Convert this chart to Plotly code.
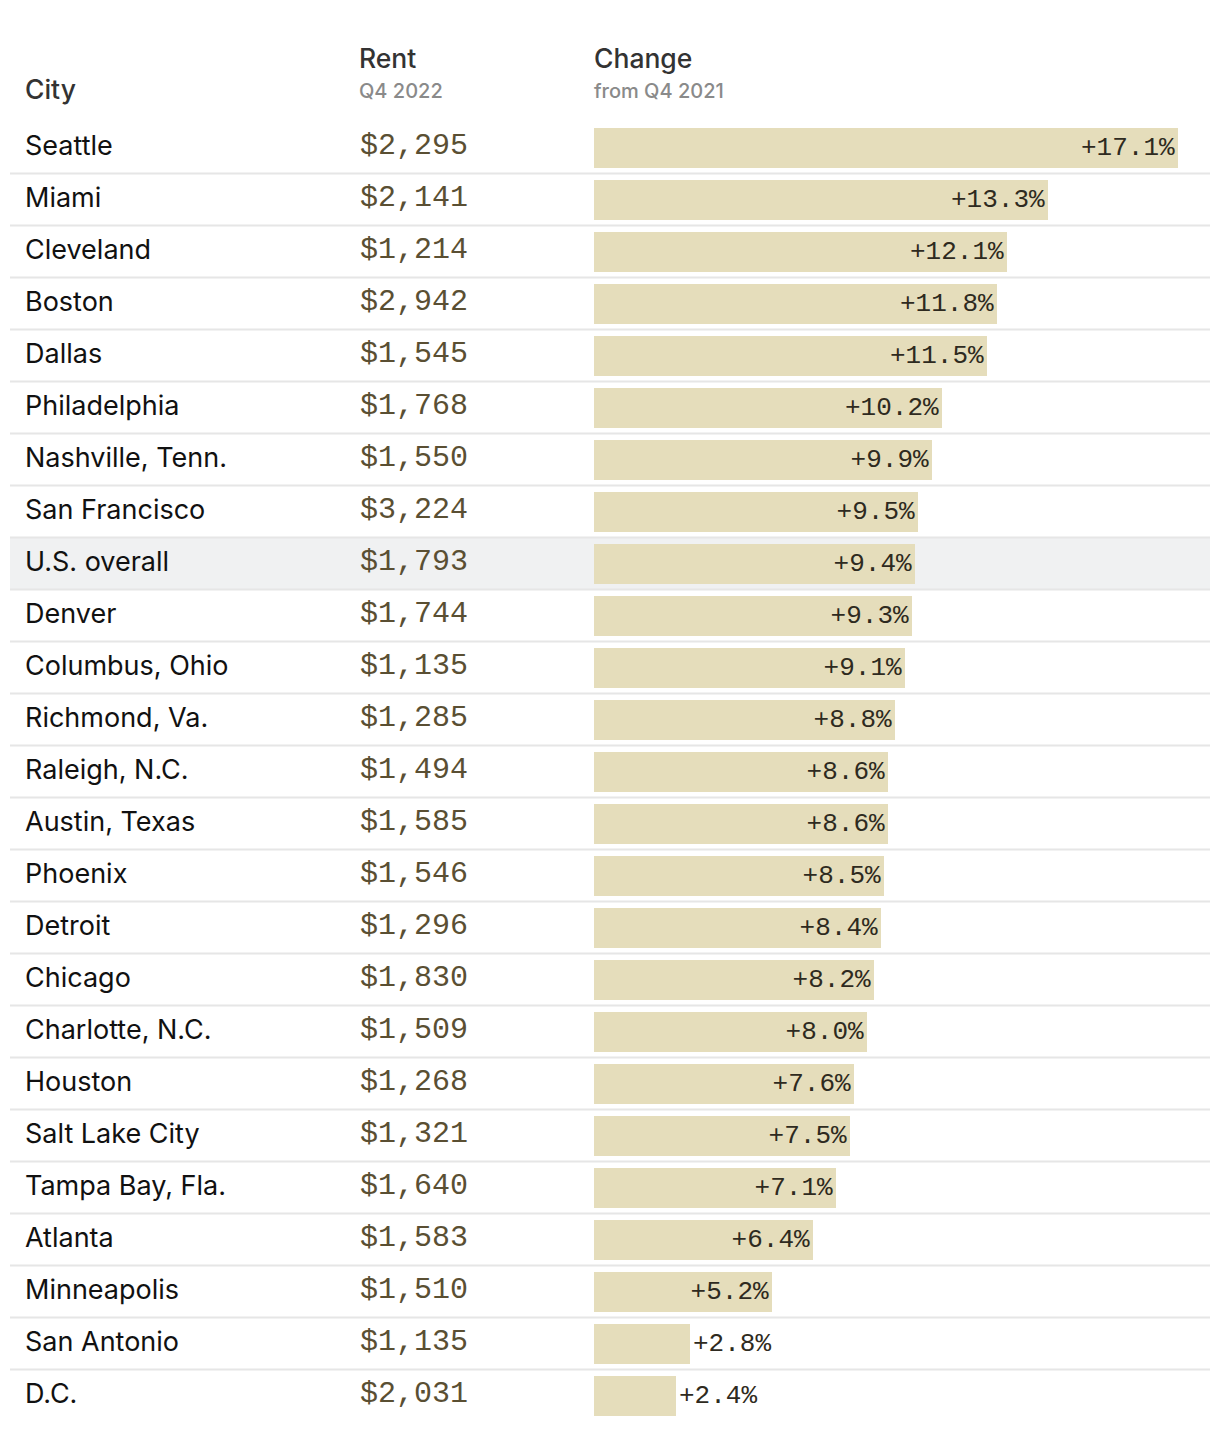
import plotly.graph_objects as go

cities = ["Seattle", "Miami", "Cleveland", "Boston", "Dallas", "Philadelphia",
          "Nashville, Tenn.", "San Francisco", "U.S. overall", "Denver",
          "Columbus, Ohio", "Richmond, Va.", "Raleigh, N.C.", "Austin, Texas",
          "Phoenix", "Detroit", "Chicago", "Charlotte, N.C.", "Houston",
          "Salt Lake City", "Tampa Bay, Fla.", "Atlanta", "Minneapolis",
          "San Antonio", "D.C."]
rents = [2295, 2141, 1214, 2942, 1545, 1768, 1550, 3224, 1793, 1744, 1135,
         1285, 1494, 1585, 1546, 1296, 1830, 1509, 1268, 1321, 1640, 1583,
         1510, 1135, 2031]
changes = [17.1, 13.3, 12.1, 11.8, 11.5, 10.2, 9.9, 9.5, 9.4, 9.3, 9.1, 8.8,
           8.6, 8.6, 8.5, 8.4, 8.2, 8.0, 7.6, 7.5, 7.1, 6.4, 5.2, 2.8, 2.4]
highlight = "U.S. overall"

W, H = 1220, 1430
OFF = 8               # page body margin
BAR_X0 = 594 - OFF    # pixel (in figure) where 0% sits
PX_PER_PCT = 584 / 17.1
ROW0 = 147.5 - OFF    # pixel centre of first row
PITCH = 52

n = len(cities)
idx = list(range(n))

def px_x(p):
    return (p - OFF) / W

def px_y(p):
    return 1 - (p - OFF) / H

xr = [-BAR_X0 / PX_PER_PCT, (W - BAR_X0) / PX_PER_PCT]
yr = [(H - ROW0) / PITCH, -ROW0 / PITCH]

positions = ["inside" if c >= 4 else "outside" for c in changes]
labels = [f"+{c:.1f}%" for c in changes]

fig = go.Figure()
fig.add_trace(go.Bar(
    x=changes, y=idx, orientation="h", width=40 / PITCH,
    marker=dict(color="#e5ddbb", line=dict(width=0)),
    text=labels, textposition=positions, insidetextanchor="end",
    textfont=dict(family="Liberation Mono", size=26, color="#2e2a20"),
    cliponaxis=False, hoverinfo="skip",
))

shapes = []
hi = cities.index(highlight)
shapes.append(dict(type="rect", xref="paper", yref="y", x0=px_x(10), x1=px_x(1210),
                   y0=hi - 0.5, y1=hi + 0.5, fillcolor="#f0f1f2", line=dict(width=0),
                   layer="below"))
for i in range(n - 1):
    shapes.append(dict(type="line", xref="paper", yref="y", x0=px_x(10), x1=px_x(1210),
                       y0=i + 0.5, y1=i + 0.5, line=dict(color="#e6e6e6", width=2),
                       layer="below"))

ann = []
for i, (c, r) in enumerate(zip(cities, rents)):
    ann.append(dict(x=px_x(23), y=i - 0.04, xref="paper", yref="y", text=c,
                    showarrow=False, xanchor="left", yanchor="middle",
                    font=dict(family="Inter", size=27, color="#111111")))
    ann.append(dict(x=px_x(358), y=i - 0.03, xref="paper", yref="y", text=f"${r:,}",
                    showarrow=False, xanchor="left", yanchor="middle",
                    font=dict(family="Liberation Mono", size=30, color="#5a4f33")))

hdr = dict(family="Inter", size=26.5, color="#333333", weight=500)
sub = dict(family="Inter", size=20, color="#8a8a8a", weight=500)
ann += [
    dict(x=px_x(23), y=px_y(89), xref="paper", yref="paper", text="City", showarrow=False,
         xanchor="left", yanchor="middle", font=hdr),
    dict(x=px_x(357), y=px_y(58), xref="paper", yref="paper", text="Rent", showarrow=False,
         xanchor="left", yanchor="middle", font=hdr),
    dict(x=px_x(357), y=px_y(91), xref="paper", yref="paper", text="Q4 2022", showarrow=False,
         xanchor="left", yanchor="middle", font=sub),
    dict(x=px_x(592), y=px_y(58), xref="paper", yref="paper", text="Change", showarrow=False,
         xanchor="left", yanchor="middle", font=hdr),
    dict(x=px_x(592), y=px_y(91), xref="paper", yref="paper", text="from Q4 2021", showarrow=False,
         xanchor="left", yanchor="middle", font=sub),
]

fig.update_layout(
    width=W, height=H, margin=dict(l=0, r=0, t=0, b=0),
    paper_bgcolor="white", plot_bgcolor="rgba(0,0,0,0)",
    showlegend=False, shapes=shapes, annotations=ann,
    xaxis=dict(range=xr, domain=[0, 1], visible=False, fixedrange=True),
    yaxis=dict(range=yr, domain=[0, 1], visible=False, fixedrange=True),
    bargap=0,
)
fig.write_html("out.html")
